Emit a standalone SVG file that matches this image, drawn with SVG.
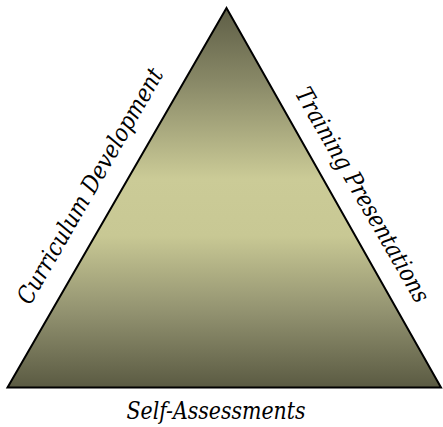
<svg xmlns="http://www.w3.org/2000/svg" width="443" height="427" viewBox="0 0 443 427">
<defs>
<linearGradient id="g" gradientUnits="userSpaceOnUse" x1="0" y1="8" x2="0" y2="388">
<stop offset="0" stop-color="#5e5e46"/>
<stop offset="0.2" stop-color="#8a8a68"/>
<stop offset="0.45" stop-color="#cbcb97"/>
<stop offset="0.6" stop-color="#c8c894"/>
<stop offset="0.8" stop-color="#929270"/>
<stop offset="1" stop-color="#5a5a42"/>
</linearGradient>
<style>
.lbl{font-family:'DejaVu Serif',serif;font-style:italic;font-size:24px;fill:#000;text-anchor:middle}
</style>
</defs>
<g id="triangle">
<polygon points="226.5,8 7.5,387.5 441,387.5" fill="url(#g)" stroke="#000" stroke-width="2" stroke-linejoin="miter"/>
</g>
<g id="label-left">
<text class="lbl" transform="translate(97,190) rotate(-60)" textLength="268" lengthAdjust="spacingAndGlyphs">Curriculum Development</text>
</g>
<g id="label-right">
<text class="lbl" transform="translate(355.5,199) rotate(60)" textLength="244" lengthAdjust="spacingAndGlyphs">Training Presentations</text>
</g>
<g id="label-bottom">
<text class="lbl" x="216" y="419" textLength="179" lengthAdjust="spacingAndGlyphs">Self-Assessments</text>
</g>
</svg>
